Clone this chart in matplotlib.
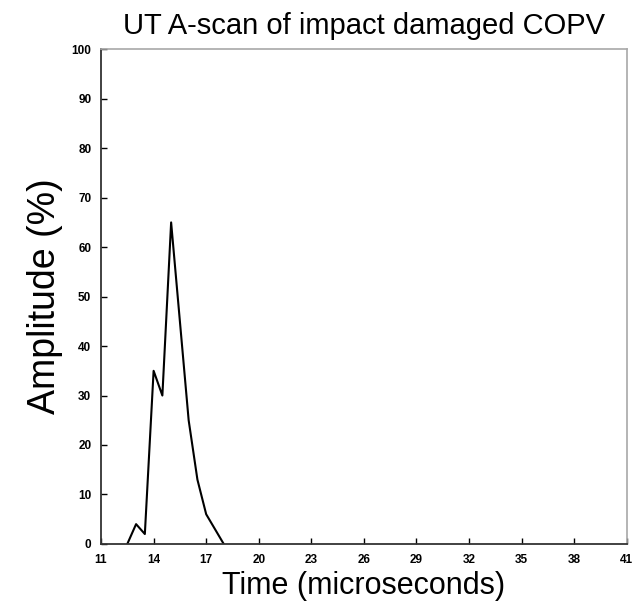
import matplotlib
matplotlib.use("Agg")
import matplotlib.pyplot as plt

# A-scan samples (time in microseconds, amplitude in %)
time_us = [12.5, 13.0, 13.5, 14.0, 14.5, 15.0, 15.5, 16.0, 16.5, 17.0, 17.5, 18.0]
amplitude = [0, 4, 2, 35, 30, 65, 45, 25, 13, 6, 3, 0]

x_ticks = list(range(11, 42, 3))
y_ticks = list(range(0, 101, 10))

plt.rcParams["font.family"] = ["Liberation Sans", "DejaVu Sans"]

fig = plt.figure(figsize=(6.37, 6.16), dpi=100)
ax = fig.add_axes([0.1586, 0.117, 0.8254, 0.803])

ax.plot(time_us, amplitude, color="black", lw=1.5)

ax.set_xlim(11, 41)
ax.set_ylim(0, 100)
ax.set_xticks(x_ticks)
ax.set_yticks(y_ticks)
ax.tick_params(direction="in", length=4, width=1, labelsize=8.5, pad=7)
for lab in ax.get_xticklabels() + ax.get_yticklabels():
    lab.set_fontweight("bold")

for side in ("left", "bottom"):
    ax.spines[side].set_color("#333333")
    ax.spines[side].set_linewidth(1.3)
for side in ("top", "right"):
    ax.spines[side].set_color("#a8a8a8")
    ax.spines[side].set_linewidth(1.2)

ax.set_title("UT A-scan of impact damaged COPV", fontsize=21, pad=11)
ax.set_xlabel("Time (microseconds)", fontsize=22, labelpad=4)
ax.set_ylabel("Amplitude (%)", fontsize=27, labelpad=6)

fig.savefig("out.png", dpi=100)
